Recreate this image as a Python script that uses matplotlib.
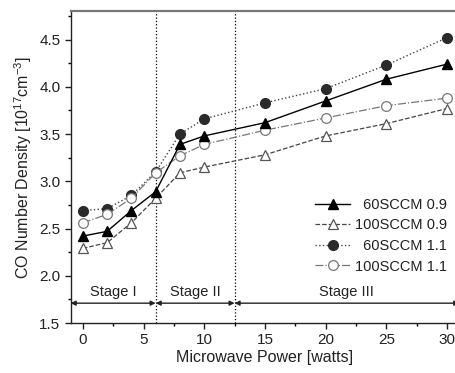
import matplotlib
matplotlib.use("Agg")
import matplotlib.pyplot as plt
from matplotlib.ticker import MultipleLocator

plt.rcParams['font.family'] = ['Liberation Sans', 'DejaVu Sans']
plt.rcParams['mathtext.fontset'] = 'custom'
plt.rcParams['mathtext.rm'] = 'Liberation Sans'
plt.rcParams['mathtext.it'] = 'Liberation Sans'

power = [0, 2, 4, 6, 8, 10, 15, 20, 25, 30]
s60_09 = [2.42, 2.47, 2.69, 2.89, 3.39, 3.48, 3.62, 3.85, 4.08, 4.24]
s100_09 = [2.29, 2.35, 2.56, 2.82, 3.09, 3.15, 3.28, 3.48, 3.61, 3.77]
s60_11 = [2.69, 2.71, 2.85, 3.10, 3.50, 3.66, 3.83, 3.98, 4.23, 4.52]
s100_11 = [2.56, 2.65, 2.82, 3.09, 3.27, 3.39, 3.54, 3.67, 3.80, 3.88]
labels = ["\u200760SCCM 0.9", "100SCCM 0.9", "\u200760SCCM 1.1", "100SCCM 1.1"]
stage_names = ["Stage I", "Stage II", "Stage III"]
stage_bounds = [-1, 6, 12.5, 31]

fig = plt.figure(figsize=(4.56, 3.73), dpi=100)
ax = fig.add_axes([0.155, 0.134, 0.852, 0.836])

ax.plot(power, s60_09, '-', color='black', lw=1.0, marker='^', ms=7,
        mfc='black', mec='black', label=labels[0], zorder=4)
ax.plot(power, s100_09, '--', color='#444444', lw=0.9, marker='^', ms=7,
        mfc='white', mec='#555555', mew=0.9, label=labels[1], zorder=3)
ax.plot(power, s60_11, ':', color='#444444', lw=1.0, marker='o', ms=7,
        mfc='#2a2a2a', mec='#2a2a2a', label=labels[2], zorder=2)
ax.plot(power, s100_11, '-.', color='#777777', lw=0.9, marker='o', ms=7,
        mfc='white', mec='#777777', mew=0.9, label=labels[3], zorder=3)

for xb in stage_bounds[1:3]:
    ax.axvline(xb, color='black', ls=':', lw=0.9, zorder=1)

y_arrow = 1.71
y_text = 1.75
for i, name in enumerate(stage_names):
    a, b = stage_bounds[i], stage_bounds[i + 1]
    ax.annotate('', xy=(a, y_arrow), xytext=(b, y_arrow),
                arrowprops=dict(arrowstyle='<|-|>', color='#222222', lw=1.0,
                                shrinkA=0, shrinkB=0, mutation_scale=7))
    ax.text((a + b) / 2, y_text, name, ha='center', va='bottom', fontsize=10.5,
            color='#222222')

ax.set_xlim(-1, 31)
ax.set_ylim(1.5, 4.8)
ax.xaxis.set_major_locator(MultipleLocator(5))
ax.xaxis.set_minor_locator(MultipleLocator(2.5))
ax.yaxis.set_major_locator(MultipleLocator(0.5))
ax.yaxis.set_minor_locator(MultipleLocator(0.25))
ax.yaxis.set_major_formatter(matplotlib.ticker.FormatStrFormatter('%.1f'))
ax.tick_params(which='major', direction='out', length=4, width=1, labelsize=11,
               colors='#222222', top=False, right=False)
ax.tick_params(which='minor', direction='out', length=2.5, width=1,
               top=False, right=False)

ax.spines['top'].set_color('#777777')
ax.spines['top'].set_linewidth(1.6)
ax.spines['right'].set_visible(False)
for s in ['left', 'bottom']:
    ax.spines[s].set_linewidth(1.0)
    ax.spines[s].set_color('#222222')

ax.set_xlabel('Microwave Power [watts]', fontsize=11.5, color='#222222', labelpad=2)
ax.set_ylabel('CO Number Density [10$^{17}$cm$^{-3}$]', fontsize=11.5,
              color='#222222', labelpad=4)

leg = ax.legend(loc='upper left', bbox_to_anchor=(0.615, 0.42), frameon=False,
                fontsize=10.5, handlelength=2.4, labelspacing=0.45,
                handletextpad=0.3, borderaxespad=0)
for t in leg.get_texts():
    t.set_color('#222222')

fig.savefig('out.png', dpi=100)
